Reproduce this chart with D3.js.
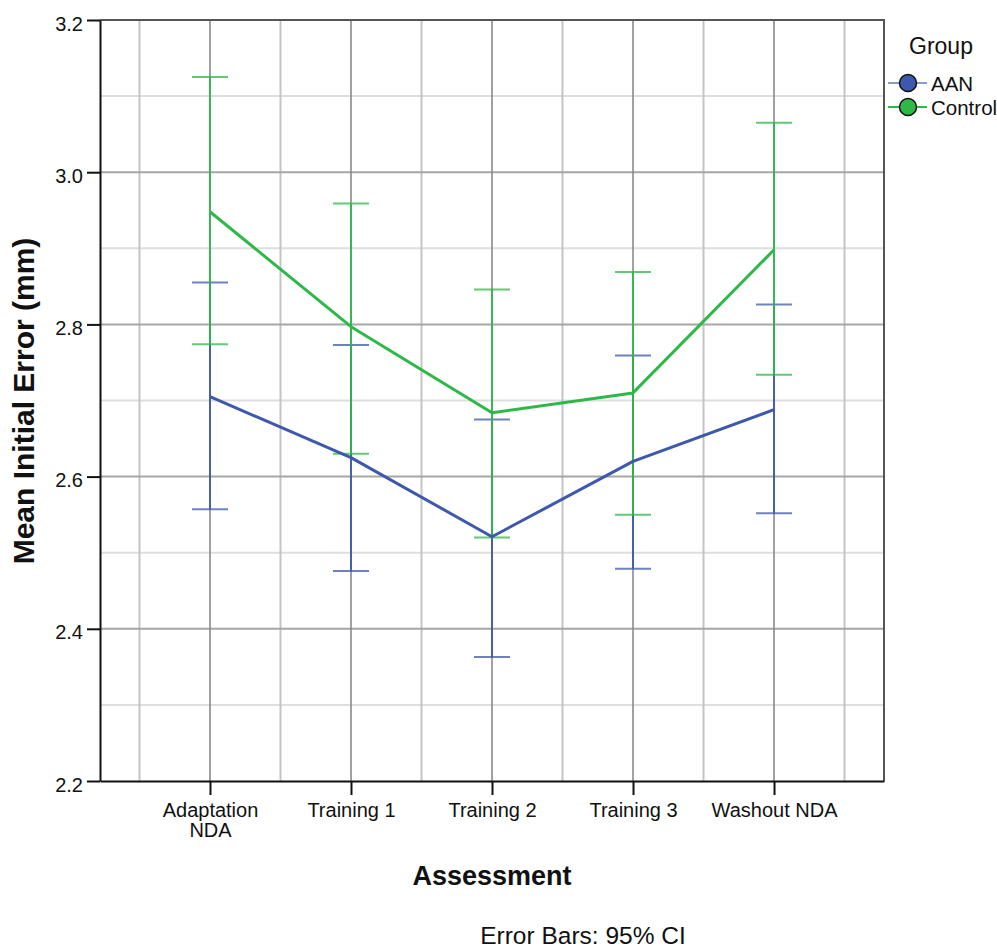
<!DOCTYPE html>
<html>
<head>
<meta charset="utf-8">
<script src="https://cdn.jsdelivr.net/npm/d3@7"></script>
<style>
  html, body { margin: 0; padding: 0; background: #fff; }
  svg { display: block; }
  text { font-family: "Liberation Sans", Arial, sans-serif; fill: #111; }
</style>
</head>
<body>
<svg id="chart" width="997" height="948"></svg>
<script>
// Assessment phases (x axis) and their tick labels (wrapped lines)
const categories = ["Adaptation NDA", "Training 1", "Training 2", "Training 3", "Washout NDA"];
const tickLabels = [["Adaptation", "NDA"], ["Training 1"], ["Training 2"], ["Training 3"], ["Washout NDA"]];

// Group means and 95% confidence limits (mm)
const aanMean  = [2.705, 2.625, 2.521, 2.620, 2.688];
const aanLow   = [2.557, 2.476, 2.363, 2.479, 2.552];
const aanHigh  = [2.855, 2.773, 2.675, 2.759, 2.826];
const ctrlMean = [2.948, 2.797, 2.684, 2.710, 2.898];
const ctrlLow  = [2.774, 2.630, 2.520, 2.550, 2.734];
const ctrlHigh = [3.125, 2.959, 2.846, 2.869, 3.065];

const groups = ["AAN", "Control"];
const yTicks = [2.2, 2.4, 2.6, 2.8, 3.0, 3.2];
const yMinorTicks = [2.3, 2.5, 2.7, 2.9, 3.1];

const colors = { AAN: "#3E58AC", Control: "#2EB848" };

const series = [
  { name: "AAN", mean: aanMean, low: aanLow, high: aanHigh },
  { name: "Control", mean: ctrlMean, low: ctrlLow, high: ctrlHigh }
];

const svg = d3.select("#chart");
const plotLeft = 100, plotRight = 884, plotTop = 20, plotBottom = 781;

const x = d3.scalePoint().domain(categories).range([plotLeft, plotRight]).padding(0.78);
const y = d3.scaleLinear().domain([2.2, 3.2]).range([plotBottom, plotTop]);
const step = x.step();

// Grid
const grid = svg.append("g");
grid.selectAll("line.hminor").data(yMinorTicks).join("line")
  .attr("x1", plotLeft).attr("x2", plotRight)
  .attr("y1", d => y(d)).attr("y2", d => y(d))
  .attr("stroke", "#dedede").attr("stroke-width", 2);
const halfPositions = [x(categories[0]) - step / 2].concat(categories.map(c => x(c) + step / 2));
grid.selectAll("line.vminor").data(halfPositions).join("line")
  .attr("x1", d => d).attr("x2", d => d)
  .attr("y1", plotTop).attr("y2", plotBottom)
  .attr("stroke", "#c4c4c4").attr("stroke-width", 2);
grid.selectAll("line.hmajor").data(yTicks.slice(1, -1)).join("line")
  .attr("x1", plotLeft).attr("x2", plotRight)
  .attr("y1", d => y(d)).attr("y2", d => y(d))
  .attr("stroke", "#a6a6a6").attr("stroke-width", 2);
grid.selectAll("line.vmajor").data(categories).join("line")
  .attr("x1", d => x(d)).attr("x2", d => x(d))
  .attr("y1", plotTop).attr("y2", plotBottom)
  .attr("stroke", "#8a8a8a").attr("stroke-width", 1.6);

// Frame (top/right)
svg.append("path")
  .attr("d", `M${plotLeft},${plotTop}H${plotRight}V${plotBottom}`)
  .attr("fill", "none").attr("stroke", "#555").attr("stroke-width", 2);

// Y axis
const yAxis = d3.axisLeft(y).tickValues(yTicks).tickSize(13).tickSizeOuter(0)
  .tickPadding(4).tickFormat(d3.format(".1f"));
const gy = svg.append("g").attr("transform", `translate(${plotLeft},0)`).call(yAxis);
gy.select(".domain").attr("stroke", "#111").attr("stroke-width", 2);
gy.selectAll(".tick line").attr("stroke", "#111").attr("stroke-width", 2);
gy.selectAll(".tick text").attr("font-size", 20).attr("font-family", "Liberation Sans, Arial, sans-serif")
  .attr("fill", "#222").attr("dy", "0.5em");

// X axis
const xAxis = d3.axisBottom(x).tickSize(14).tickSizeOuter(0).tickFormat("");
const gx = svg.append("g").attr("transform", `translate(0,${plotBottom})`).call(xAxis);
gx.select(".domain").attr("stroke", "#111").attr("stroke-width", 2);
gx.selectAll(".tick line").attr("stroke", "#111").attr("stroke-width", 2);
gx.selectAll(".tick").each(function(d, i) {
  const t = d3.select(this).append("text")
    .attr("text-anchor", "middle").attr("font-size", 20).attr("fill", "#222");
  tickLabels[i].forEach((line, j) => {
    t.append("tspan").attr("x", 0).attr("y", 36 + j * 20).text(line);
  });
});

// Error bars
const capHalf = 18;
series.forEach(s => {
  const g = svg.append("g").attr("stroke", colors[s.name]).attr("fill", "none");
  g.selectAll("line.bar").data(categories).join("line")
    .attr("x1", d => x(d)).attr("x2", d => x(d))
    .attr("y1", (d, i) => y(s.low[i])).attr("y2", (d, i) => y(s.high[i]))
    .attr("stroke-width", 2).attr("stroke-opacity", 0.9);
  g.selectAll("line.capLow").data(categories).join("line")
    .attr("x1", d => x(d) - capHalf).attr("x2", d => x(d) + capHalf)
    .attr("y1", (d, i) => y(s.low[i])).attr("y2", (d, i) => y(s.low[i]))
    .attr("stroke-width", 2).attr("stroke-opacity", 0.75);
  g.selectAll("line.capHigh").data(categories).join("line")
    .attr("x1", d => x(d) - capHalf).attr("x2", d => x(d) + capHalf)
    .attr("y1", (d, i) => y(s.high[i])).attr("y2", (d, i) => y(s.high[i]))
    .attr("stroke-width", 2).attr("stroke-opacity", 0.75);
});

// Mean lines
const line = d3.line().x((d, i) => x(categories[i])).y(d => y(d));
series.forEach(s => {
  svg.append("path").datum(s.mean)
    .attr("d", line)
    .attr("fill", "none").attr("stroke", colors[s.name]).attr("stroke-width", 3)
    .attr("stroke-linejoin", "round");
});

// Axis titles
svg.append("text")
  .attr("x", (plotLeft + plotRight) / 2).attr("y", 885)
  .attr("text-anchor", "middle").attr("font-size", 27).attr("font-weight", "bold")
  .text("Assessment");
svg.append("text")
  .attr("transform", `translate(34,${(235 + 567) / 2}) rotate(-90)`)
  .attr("text-anchor", "middle").attr("font-size", 30).attr("font-weight", "bold")
  .text("Mean Initial Error (mm)");

// Footnote
svg.append("text")
  .attr("x", 583).attr("y", 944)
  .attr("text-anchor", "middle").attr("font-size", 24.5).attr("fill", "#222")
  .text("Error Bars: 95% CI");

// Legend
const legend = svg.append("g");
legend.append("text").attr("x", 941).attr("y", 54).attr("text-anchor", "middle")
  .attr("font-size", 23).attr("fill", "#222").text("Group");
const legendY = d3.scalePoint().domain(groups).range([83, 107]);
groups.forEach(gname => {
  const cy = legendY(gname);
  legend.append("line").attr("x1", 888).attr("x2", 927).attr("y1", cy).attr("y2", cy)
    .attr("stroke", colors[gname]).attr("stroke-width", 2).attr("stroke-opacity", gname === "AAN" ? 0.6 : 1);
  legend.append("circle").attr("cx", 908).attr("cy", cy).attr("r", 8.5)
    .attr("fill", colors[gname]).attr("stroke", "#111").attr("stroke-width", 1.5);
  legend.append("text").attr("x", 931).attr("y", cy + 8).attr("font-size", 20.5)
    .attr("fill", "#222").text(gname);
});
</script>
</body>
</html>
